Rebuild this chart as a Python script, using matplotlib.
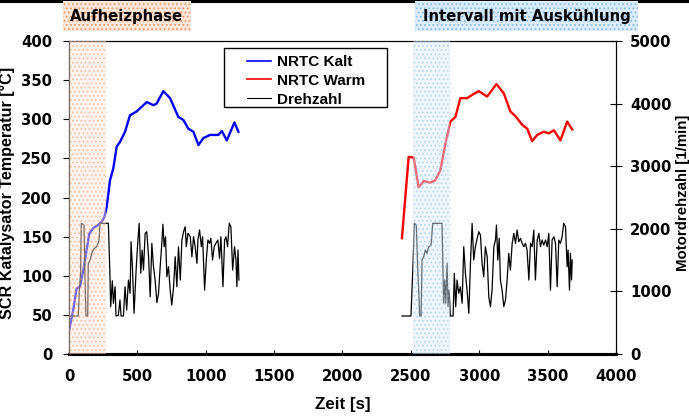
import matplotlib
matplotlib.use("Agg")
import matplotlib.pyplot as plt
from matplotlib.lines import Line2D
from matplotlib.patches import Rectangle

# NRTC Kalt: SCR temperature [°C] over time [s]
kalt_t = [2, 31, 56, 80, 105, 129, 149, 178, 215, 239, 259, 276, 300, 324, 349, 373,
          410, 446, 495, 532, 569, 617, 641, 690, 739, 800, 837, 873, 910, 947, 983,
          1032, 1093, 1118, 1154, 1210, 1239]
kalt_T = [31, 56, 84, 86, 107, 133, 154, 161, 165, 169, 175, 188, 222, 237, 265, 271,
          284, 305, 310, 316, 322, 318, 320, 336, 327, 303, 299, 288, 284, 267, 276,
          280, 280, 285, 273, 296, 284]

# NRTC Warm
warm_t = [2435, 2484, 2521, 2557, 2594, 2643, 2679, 2716, 2753, 2789, 2826, 2862, 2911,
          2948, 2996, 3058, 3126, 3180, 3228, 3265, 3314, 3351, 3387, 3424, 3472, 3509,
          3546, 3594, 3643, 3680]
warm_T = [148, 252, 251, 213, 221, 219, 222, 235, 269, 297, 303, 327, 327, 331, 336, 329,
          345, 333, 310, 304, 293, 288, 272, 280, 284, 282, 286, 273, 297, 287]

# engine speed [1/min], first run
n1_t = [2, 68, 76, 85, 90, 110, 117, 124, 137, 141, 154, 171, 185, 203, 220, 227, 288,
        300, 305, 317, 325, 337, 344, 361, 373, 381, 398, 410, 422, 435, 447, 454, 464,
        476, 491, 501, 513, 525, 535, 545, 557, 569, 582, 594, 606, 618, 630, 643, 655,
        667, 679, 687, 696, 706, 716, 728, 740, 752, 765, 777, 789, 801, 814, 826, 838,
        850, 858, 870, 887, 899, 911, 923, 936, 943, 955, 968, 977, 992, 1004, 1016,
        1028, 1038, 1050, 1062, 1074, 1089, 1101, 1111, 1126, 1138, 1148, 1160, 1172,
        1184, 1197, 1211, 1221, 1228, 1236, 1243]
n1_v = [607, 607, 1022, 1289, 2088, 2060, 1235, 607, 607, 1448, 1501, 1634, 1688, 1714,
        1821, 2088, 2088, 1235, 756, 1170, 810, 1075, 607, 620, 863, 607, 607, 1075, 703,
        1182, 970, 1794, 1395, 650, 1342, 1714, 2088, 1289, 1661, 1342, 1928, 1954, 1554,
        915, 1768, 1395, 1182, 820, 970, 1395, 1768, 2072, 1714, 1874, 1235, 1395, 1022,
        783, 1075, 1554, 1075, 1714, 1182, 1821, 1954, 2034, 1714, 1928, 1874, 1554, 1874,
        1714, 1448, 1821, 1981, 1714, 1874, 1022, 1501, 1821, 1768, 1848, 1501, 1714,
        1768, 1821, 1528, 1874, 1075, 1821, 1874, 1714, 2088, 2034, 1342, 1714, 1501,
        1075, 1661, 1182]

# engine speed, second run
n2_t = [2435, 2501, 2515, 2526, 2540, 2550, 2565, 2575, 2582, 2594, 2606, 2618, 2631,
        2648, 2660, 2716, 2728, 2736, 2740, 2748, 2755, 2765, 2772, 2780, 2789, 2809,
        2818, 2828, 2838, 2850, 2862, 2875, 2887, 2899, 2911, 2924, 2936, 2948, 2960,
        2972, 2985, 2997, 3009, 3021, 3033, 3045, 3058, 3070, 3082, 3094, 3107, 3119,
        3126, 3136, 3146, 3155, 3167, 3180, 3192, 3204, 3216, 3228, 3241, 3253, 3265,
        3277, 3289, 3302, 3314, 3326, 3338, 3350, 3363, 3375, 3387, 3399, 3411, 3424,
        3436, 3448, 3460, 3472, 3485, 3497, 3509, 3521, 3533, 3546, 3558, 3570, 3582,
        3594, 3606, 3618, 3631, 3643, 3650, 3660, 3667, 3675, 3680]
n2_v = [607, 607, 1395, 2088, 2060, 1395, 607, 607, 1501, 1554, 1661, 1608, 1714, 1741,
        2088, 2088, 2088, 1235, 810, 1182, 810, 1448, 756, 1022, 607, 607, 1289, 756,
        1182, 970, 1075, 810, 1714, 1289, 1022, 650, 1448, 2088, 1501, 1714, 1848, 1954,
        1900, 1448, 1235, 1714, 1554, 915, 756, 1022, 1714, 1821, 2060, 1501, 1848, 1182,
        1022, 756, 863, 1182, 1608, 1342, 1768, 1928, 1768, 1981, 1794, 1848, 1768, 1714,
        1768, 1661, 1182, 1768, 1714, 1981, 1182, 1821, 1928, 1714, 1821, 1741, 1821,
        1714, 1928, 1022, 1821, 1874, 1768, 1075, 1821, 1768, 1874, 2088, 2034, 1395,
        1661, 1022, 1608, 1182, 1501]

phases = [("Aufheizphase", 0, 268), ("Intervall mit Auskühlung", 2513, 2789)]
phase_fill = ["#fde6da", "#dcecfb"]
phase_dots = ["#f49a68", "#86bcef"]

FS = 10.7
ARIAL = "Liberation Sans"
plt.rcParams["font.family"] = "DejaVu Sans"
plt.rcParams["font.weight"] = "bold"
plt.rcParams["font.size"] = FS
plt.rcParams["hatch.linewidth"] = 0.8

fig = plt.figure(figsize=(6.89, 4.16), dpi=100)
ax = fig.add_axes([0.1001, 0.149, 0.7939, 0.7524])
ax2 = ax.twinx()

ax.plot(kalt_t, kalt_T, color="#0000ff", lw=1.7, zorder=2)
ax.plot(warm_t, warm_T, color="#ff0000", lw=1.7, zorder=2)
ax2.plot(n1_t, n1_v, color="black", lw=0.9, zorder=2)
ax2.plot(n2_t, n2_v, color="black", lw=0.9, zorder=2)

# shaded phases sit on top of the curves
for (label, x0, x1), fc, dc in zip(phases, phase_fill, phase_dots):
    ax2.axvspan(x0, x1, facecolor=fc, edgecolor=dc, hatch="....", lw=0,
                alpha=0.45, zorder=3)

ax.set_xlim(0, 4000)
ax.set_ylim(0, 400)
ax2.set_ylim(0, 5000)
ax.set_xticks(range(0, 4001, 500))
ax.set_yticks(range(0, 401, 50))
ax2.set_yticks(range(0, 5001, 1000))

ax.set_xlabel("Zeit [s]", family=ARIAL, fontweight="bold", fontsize=12.2, labelpad=9)
ax.set_ylabel("SCR Katalysator Temperatur [°C]", family=ARIAL, fontweight="bold",
              fontsize=11.6)
ax2.set_ylabel("Motordrehzahl [1/min]", family=ARIAL, fontweight="bold", fontsize=10.8)
ax.yaxis.set_label_coords(-0.099, 0.514)
ax2.yaxis.set_label_coords(1.11, 0.514)

ax.tick_params(axis="x", direction="in", length=3, pad=11)
ax.tick_params(axis="y", direction="out", length=4, width=0.8, pad=8)
ax2.tick_params(axis="y", direction="inout", length=8, width=0.8, pad=6)

for a in (ax, ax2):
    a.spines["bottom"].set_linewidth(2.2)
    for s in ("top", "left", "right"):
        a.spines[s].set_linewidth(0.8)

# legend: square frame drawn separately so the side margins can be wide
ax2.add_patch(Rectangle((0.2834, 0.789), 0.298, 0.189, transform=ax2.transAxes,
                        facecolor="white", edgecolor="black", lw=1.0, zorder=5,
                        clip_on=False))
handles = [Line2D([], [], color="#0000ff", lw=1.2),
           Line2D([], [], color="#ff0000", lw=1.2),
           Line2D([], [], color="black", lw=0.8)]
leg = ax2.legend(handles, ["NRTC Kalt", "NRTC Warm", "Drehzahl"],
                 loc="upper left", bbox_to_anchor=(0.3254, 0.955), frameon=False,
                 handlelength=1.57, handletextpad=0.4, labelspacing=0.31,
                 borderpad=0, borderaxespad=0,
                 prop={"family": ARIAL, "weight": "bold", "size": 11})
leg.set_zorder(6)

# phase captions above the plot
for (label, x0, x1), fc, dc, xc in zip(phases, phase_fill, phase_dots, (0.1843, 0.764)):
    fig.text(xc, 0.961, label, ha="center", va="center", fontweight="bold",
             fontsize=FS,
             bbox=dict(boxstyle="square,pad=0.5", facecolor=fc, edgecolor=dc,
                       hatch="....", lw=0))

fig.add_artist(Line2D([0, 1], [0.997, 0.997], transform=fig.transFigure,
                      color="black", lw=2.2))

fig.savefig("out.png", dpi=100)
